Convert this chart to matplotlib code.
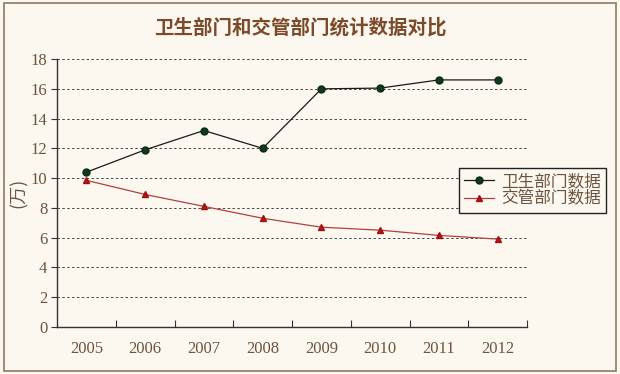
import matplotlib.pyplot as plt
from matplotlib.patches import Rectangle

years = ['2005', '2006', '2007', '2008', '2009', '2010', '2011', '2012']
health = [10.4, 11.9, 13.2, 12.0, 16.0, 16.05, 16.6, 16.6]
traffic = [9.85, 8.9, 8.1, 7.3, 6.7, 6.5, 6.15, 5.9]
yticks = list(range(0, 19, 2))

plt.rcParams['font.family'] = ['Noto Sans CJK SC', 'DejaVu Sans']
bg = '#fcf8f0'
txt = '#6b5440'

fig = plt.figure(figsize=(6.2, 3.74), dpi=100, facecolor=bg)
fig.patches.append(Rectangle((0.006, 0.008), 0.988, 0.984, transform=fig.transFigure,
                             fill=False, edgecolor='#8a7a60', lw=1.2))
ax = fig.add_axes([0.092, 0.126, 0.758, 0.716])
ax.set_facecolor(bg)

x = range(len(years))
ax.plot(x, health, color='#1a1a1a', lw=0.9, marker='o', ms=5,
        mfc='#0d3b1c', mec='#0d2a14', label='卫生部门数据')
ax.plot(x, traffic, color='#b04040', lw=0.9, marker='^', ms=5,
        mfc='#b01818', mec='#a01010', label='交管部门数据')

ax.set_xlim(-0.5, len(years) - 0.5)
ax.set_ylim(0, 18)
ax.set_yticks(yticks)
ax.set_yticklabels([str(v) for v in yticks], family='Liberation Serif', fontsize=12, color=txt)
ax.set_xticks([i + 0.5 for i in range(len(years))])
ax.set_xticklabels([])
ax.set_xticks(list(x), minor=True)
ax.set_xticklabels(years, minor=True, family='Liberation Serif', fontsize=12, color=txt)
ax.tick_params(axis='x', which='major', direction='in', length=5, color='#333333')
ax.tick_params(axis='x', which='minor', length=0, pad=10)
ax.tick_params(axis='y', direction='out', length=4, color='#333333', pad=3)
for v in yticks[1:]:
    ax.axhline(v, color='#444444', lw=0.7, ls=(0, (2.5, 2.5)), zorder=0)
for s in ['top', 'right']:
    ax.spines[s].set_visible(False)
for s in ['left', 'bottom']:
    ax.spines[s].set_color('#333333')
    ax.spines[s].set_linewidth(1.0)

ax.set_ylabel('(万)', fontsize=13, color=txt, labelpad=2)
fig.text(0.485, 0.925, '卫生部门和交管部门统计数据对比', ha='center', va='center',
         fontsize=14, color='#7b4a2a', fontweight='bold')

leg = ax.legend(loc='upper left', bbox_to_anchor=(0.741, 0.551), bbox_transform=fig.transFigure,
                borderaxespad=0, frameon=True, fancybox=False, fontsize=12, handlelength=1.8,
                handletextpad=0.4, borderpad=0.3, labelspacing=0.05, facecolor=bg,
                edgecolor='#222222', framealpha=1)
leg.get_frame().set_linewidth(1.0)
for t in leg.get_texts():
    t.set_color(txt)

fig.savefig('out.png', dpi=100, facecolor=bg)
